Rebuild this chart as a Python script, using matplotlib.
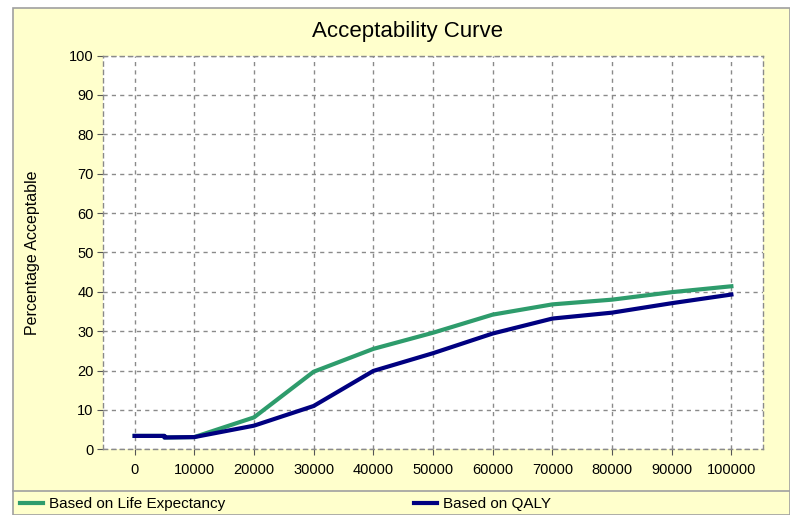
import matplotlib
matplotlib.use("Agg")
import matplotlib.pyplot as plt
from matplotlib.patches import Rectangle
from matplotlib.lines import Line2D

plt.rcParams['font.family'] = ['Liberation Sans', 'DejaVu Sans']

# willingness to pay thresholds
wtp = [0, 5000, 5000, 10000, 20000, 30000, 40000, 50000, 60000, 70000, 80000, 90000, 100000]
life_expectancy = [3.4, 3.4, 3.0, 3.1, 8.1, 19.7, 25.5, 29.6, 34.2, 36.8, 38.0, 39.9, 41.4]
qaly = [3.4, 3.4, 3.0, 3.1, 6.0, 11.0, 19.9, 24.4, 29.4, 33.2, 34.7, 37.1, 39.3]

x_ticks = list(range(0, 100001, 10000))
y_ticks = list(range(0, 101, 10))

W, H = 790, 515
fig = plt.figure(figsize=(W / 100, H / 100), dpi=100, facecolor='white')

# yellow background panel with gray border
panel_left = 13 / W
panel_top = 1 - 8 / H
fig.patches.append(Rectangle((panel_left, 0), 1 - panel_left, panel_top,
                             transform=fig.transFigure, facecolor='#FFFFCC',
                             edgecolor='#A0A0A0', linewidth=1.2, zorder=-5))
# separator above the legend band
fig.add_artist(Line2D([panel_left, 1], [1 - 491 / H, 1 - 491 / H],
                      transform=fig.transFigure, color='#A0A0A0', linewidth=1.2))

ax = fig.add_axes([103.3 / W, 1 - 449.3 / H, (762.7 - 103.3) / W, (449.3 - 55.5) / H])
ax.set_zorder(2)
ax.set_facecolor('white')

line_le, = ax.plot(wtp, life_expectancy, color='#2E9C6C', linewidth=3,
                   label='Based on Life Expectancy', zorder=3)
line_q, = ax.plot(wtp, qaly, color='#000080', linewidth=3,
                  label='Based on QALY', zorder=4)

ax.set_xlim(-5250, 105250)
ax.set_ylim(0, 100)
ax.set_xticks(x_ticks)
ax.set_yticks(y_ticks)
ax.tick_params(axis='both', labelsize=10.5, length=4, color='#555555', pad=3)
ax.tick_params(axis='x', pad=6)

ax.grid(True, color='#8a8a8a', linestyle=(0, (3, 3)), linewidth=1)
for s in ax.spines.values():
    s.set_color('#8a8a8a')
    s.set_linestyle((0, (3, 3)))
    s.set_linewidth(1)

ax.set_ylabel('Percentage Acceptable', fontsize=11.5, labelpad=21)
fig.text(408 / W, 1 - 31 / H, 'Acceptability Curve', ha='center', va='center', fontsize=16)

# legend band
fig.legend(handles=[line_le], loc='center left', bbox_to_anchor=(14 / W, 1 - 504 / H),
           frameon=False, fontsize=11, handlelength=1.5, handletextpad=0.4, borderaxespad=0)
fig.legend(handles=[line_q], loc='center left', bbox_to_anchor=(408 / W, 1 - 504 / H),
           frameon=False, fontsize=11, handlelength=1.5, handletextpad=0.4, borderaxespad=0)

fig.savefig('out.png', dpi=100, facecolor=fig.get_facecolor())
